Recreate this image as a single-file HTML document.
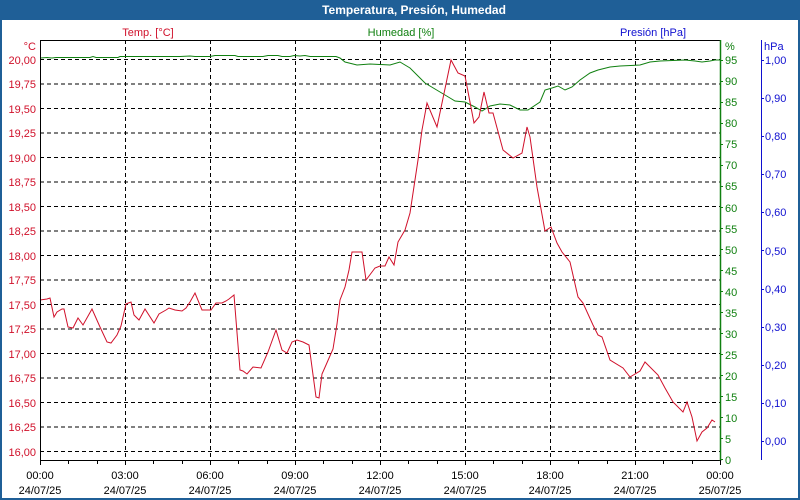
<!DOCTYPE html>
<html><head><meta charset="utf-8"><style>
html,body{margin:0;padding:0;background:#fff}
svg{display:block}
text{font-family:"Liberation Sans","DejaVu Sans",sans-serif;font-size:11px}
</style></head><body>
<svg width="800" height="500" viewBox="0 0 800 500" xmlns="http://www.w3.org/2000/svg">
<rect x="0" y="0" width="800" height="500" fill="#fff"/>
<rect x="0" y="0" width="800" height="20" fill="#1f5f97"/>
<rect x="0" y="0" width="2" height="500" fill="#1f5f97"/>
<rect x="798" y="0" width="2" height="500" fill="#1f5f97"/>
<rect x="0" y="498" width="800" height="2" fill="#1f5f97"/>
<text x="414" y="14" fill="#fff" font-weight="bold" font-size="12" text-anchor="middle" style="font-size:12px">Temperatura, Presión, Humedad</text>
<text x="148" y="36" fill="#d0102a" text-anchor="middle">Temp. [°C]</text>
<text x="401" y="36" fill="#108010" text-anchor="middle">Humedad [%]</text>
<text x="653" y="36" fill="#1010d0" text-anchor="middle">Presión [hPa]</text>
<text x="36" y="50" fill="#d0102a" text-anchor="end">°C</text>
<text x="725" y="50" fill="#108010">%</text>
<text x="764" y="50" fill="#1010d0">hPa</text>
<g stroke="#000" stroke-width="1" stroke-dasharray="4,3" fill="none">
<path d="M40 59.5H720M40 84H720M40 108.5H720M40 133H720M40 157.5H720M40 182H720M40 206.5H720M40 231H720M40 255.5H720M40 280H720M40 304.5H720M40 329H720M40 353.5H720M40 378H720M40 402.5H720M40 427H720M40 451.5H720"/>
<path d="M125.5 40V460M210.5 40V460M295.5 40V460M380.5 40V460M465.5 40V460M550.5 40V460M635.5 40V460"/>
</g>
<g fill="#d0102a" text-anchor="end">
<text x="36" y="64">20,00</text><text x="36" y="88">19,75</text><text x="36" y="113">19,50</text><text x="36" y="137">19,25</text><text x="36" y="162">19,00</text><text x="36" y="186">18,75</text><text x="36" y="211">18,50</text><text x="36" y="235">18,25</text><text x="36" y="260">18,00</text><text x="36" y="284">17,75</text><text x="36" y="309">17,50</text><text x="36" y="333">17,25</text><text x="36" y="358">17,00</text><text x="36" y="382">16,75</text><text x="36" y="407">16,50</text><text x="36" y="431">16,25</text><text x="36" y="456">16,00</text>
</g>
<g fill="#108010">
<text x="725" y="464">0</text><text x="725" y="443">5</text><text x="725" y="422">10</text><text x="725" y="401">15</text><text x="725" y="380">20</text><text x="725" y="359">25</text><text x="725" y="338">30</text><text x="725" y="317">35</text><text x="725" y="296">40</text><text x="725" y="275">45</text><text x="725" y="254">50</text><text x="725" y="233">55</text><text x="725" y="212">60</text><text x="725" y="190">65</text><text x="725" y="169">70</text><text x="725" y="148">75</text><text x="725" y="127">80</text><text x="725" y="106">85</text><text x="725" y="85">90</text><text x="725" y="64">95</text>
</g>
<path d="M720 459.5h3M720 438.5h3M720 417.5h3M720 396.5h3M720 375.5h3M720 354.5h3M720 333.5h3M720 312.5h3M720 291.5h3M720 270.5h3M720 249.5h3M720 228.5h3M720 207.5h3M720 186.5h3M720 165.5h3M720 144.5h3M720 123.5h3M720 102.5h3M720 81.5h3M720 60.5h3" stroke="#108010"/>
<g fill="#1010d0">
<text x="765" y="445">0,00</text><text x="765" y="407">0,10</text><text x="765" y="369">0,20</text><text x="765" y="331">0,30</text><text x="765" y="293">0,40</text><text x="765" y="255">0,50</text><text x="765" y="216">0,60</text><text x="765" y="178">0,70</text><text x="765" y="140">0,80</text><text x="765" y="102">0,90</text><text x="765" y="64">1,00</text>
</g>
<path d="M761 441.5h3M761 403.5h3M761 365.5h3M761 327.5h3M761 289.5h3M761 250.5h3M761 212.5h3M761 174.5h3M761 136.5h3M761 98.5h3M761 60.5h3" stroke="#1010d0"/>
<line x1="761.5" y1="40" x2="761.5" y2="460" stroke="#1010d0"/>
<polyline fill="none" stroke="#108010" stroke-width="1" points="40,58 47,57.5 52,58 56,57.5 70,57.5 90,57.5 93,56.5 96,57.5 118,57.5 120,56.5 180,56.5 190,56 195,56.5 210,56.5 215,55.5 235,55.5 238,56.5 263,56.5 268,55.5 278,55.5 282,56.5 290,56.5 294,55.5 300,56 305,55.5 310,56.5 336,56.5 340,58 345,62 357,65 370,64 390,65 400,62 410,68 420,78 425,83 440,92 450,98 455,101 465,102 475,107 482,111 490,106 500,104 510,105 520,110 528,110 540,102 545,90 552,88 558,86 565,90 572,87 580,80 590,73 598,70 610,67 620,66 640,65 650,62 660,61 685,60 695,61 702,62 710,61 715,60 720,60"/>
<polyline fill="none" stroke="#d0102a" stroke-width="1" points="40,300 47,299 50,298 54,317 57,312 62,309 64,309 68,327 73,328 78,318 83,325 92,309 100,327 107,342 111,343 117,335 121,326 126,304 131,302 134,315 139,320 145,309 154,323 159,314 166,310 169,308 175,310 182,311 186,308 190,302 195,293 202,310 209,310 211,310 216,303 222,303 226,301 229,299 234,295 240,370 243,371 247,374 253,367 261,368 268,352 276,330 282,350 287,353 292,342 297,340 303,342 309,345 316,397 319,398 322,374 326,365 333,349 337,324 340,300 345,287 349,270 352,252 362,252 366,280 375,268 380,266 385,266 389,257 394,265 398,242 405,230 410,213 418,160 422,130 427,103 437,127 442,103 451,60 458,73 465,76 474,123 479,117 484,92 489,113 493,113 503,150 513,158 522,153 527,127 530,137 537,187 545,231 551,227 557,243 562,252 570,262 578,297 583,303 593,325 598,335 602,337 610,360 623,368 630,377 640,371 645,362 658,375 665,388 673,402 683,412 687,402 692,417 697,441 702,432 707,428 712,420 715,422"/>
<rect x="40.5" y="40.5" width="680" height="420" fill="none" stroke="#000"/>
<line x1="720.5" y1="40" x2="720.5" y2="461" stroke="#108010" stroke-width="1.5"/>
<path d="M40.5 460v5M68.5 460v4M97.5 460v4M125.5 460v5M153.5 460v4M182.5 460v4M210.5 460v5M238.5 460v4M267.5 460v4M295.5 460v5M323.5 460v4M352.5 460v4M380.5 460v5M408.5 460v4M437.5 460v4M465.5 460v5M493.5 460v4M522.5 460v4M550.5 460v5M578.5 460v4M607.5 460v4M635.5 460v5M663.5 460v4M692.5 460v4M720.5 460v5" stroke="#000"/>
<g fill="#000" text-anchor="middle">
<text x="40" y="479">00:00</text><text x="40" y="494">24/07/25</text>
<text x="125" y="479">03:00</text><text x="125" y="494">24/07/25</text>
<text x="210" y="479">06:00</text><text x="210" y="494">24/07/25</text>
<text x="295" y="479">09:00</text><text x="295" y="494">24/07/25</text>
<text x="380" y="479">12:00</text><text x="380" y="494">24/07/25</text>
<text x="465" y="479">15:00</text><text x="465" y="494">24/07/25</text>
<text x="550" y="479">18:00</text><text x="550" y="494">24/07/25</text>
<text x="635" y="479">21:00</text><text x="635" y="494">24/07/25</text>
<text x="720" y="479">00:00</text><text x="720" y="494">25/07/25</text>
</g>
</svg>
</body></html>
